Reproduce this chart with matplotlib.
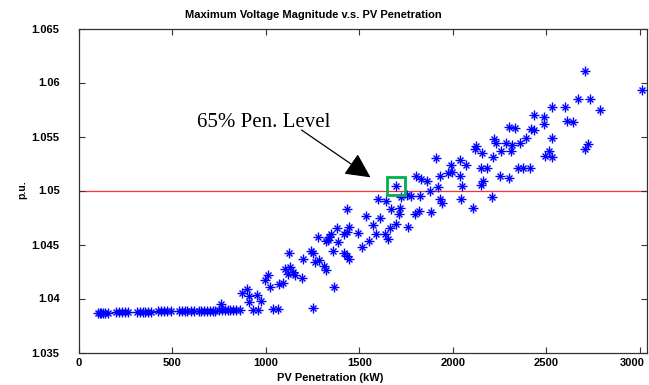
import matplotlib
matplotlib.use("Agg")
import matplotlib.pyplot as plt
from matplotlib.transforms import ScaledTranslation

# ---- data ----
flat_kw = [100, 110, 120, 130, 140, 155,
           200, 215, 230, 245, 260,
           310, 325, 340, 355, 370, 385,
           425, 440, 455, 470, 490,
           535, 550, 565, 580, 600, 615,
           640, 655, 670, 685, 700, 715, 730,
           750, 765, 780, 795, 810, 825, 840, 860]
flat_pu = [1.0387] * 6 + [1.03875] * 5 + [1.03878] * 6 + [1.0388] * 5 + \
          [1.03885] * 6 + [1.03888] * 7 + [1.0389] * 8

rise_kw = [759, 897, 875, 911, 911, 954, 972, 932, 959, 1039, 1066,
           995, 1009, 1021, 1071, 1091, 1125, 1102, 1128, 1146, 1119, 1155,
           1191, 1198, 1244, 1253, 1262, 1284, 1310, 1321, 1280, 1321, 1333,
           1253, 1365, 1601, 1642, 1726, 1753, 1672, 1717, 1711, 1437, 1535,
           1610, 1571, 1699, 1667, 1762, 1592, 1636, 1655, 1553, 1517, 1381,
           1446, 1432, 1419, 1494, 1351, 1339, 1387, 1360, 1417, 1432, 1446]
rise_pu = [1.0395, 1.0409, 1.0405, 1.0402, 1.0397, 1.0403, 1.0398, 1.0389, 1.0389, 1.0390, 1.0390,
           1.0417, 1.0422, 1.0411, 1.0413, 1.0414, 1.0442, 1.0427, 1.0429, 1.0425, 1.0423, 1.0422,
           1.0419, 1.0437, 1.0444, 1.0442, 1.0434, 1.0436, 1.0430, 1.0426, 1.0457, 1.0453, 1.0454,
           1.0391, 1.0411, 1.0492, 1.0490, 1.0494, 1.0496, 1.0483, 1.0484, 1.0478, 1.0483, 1.0476,
           1.0475, 1.0468, 1.0469, 1.0465, 1.0466, 1.0460, 1.0460, 1.0455, 1.0453, 1.0448, 1.0465,
           1.0466, 1.0462, 1.0460, 1.0461, 1.0460, 1.0457, 1.0452, 1.0444, 1.0442, 1.0439, 1.0437]

high_kw = [1912, 1993, 2041, 2070, 1806, 1829, 1864, 1931, 1973, 1999, 2038,
           2123, 2120, 2155, 2216, 2154, 2185, 2222, 2234, 2261, 2287, 2254,
           2300, 2161, 2153, 1922, 2048, 1876, 1779, 1824, 1931, 1944, 2047,
           2212, 2109, 1886, 1797, 1818, 3015, 2706, 2669, 2735, 2790, 2531,
           2602, 2433, 2488, 2488, 2611, 2643, 2303, 2331, 2421, 2433, 2533,
           2319, 2362, 2392, 2314, 2513, 2495, 2532, 2724, 2710, 2349, 2374, 2412]
high_pu = [1.0530, 1.0524, 1.0528, 1.0524, 1.0513, 1.0511, 1.0509, 1.0513, 1.0516, 1.0517, 1.0513,
           1.0541, 1.0538, 1.0535, 1.0531, 1.0521, 1.0521, 1.0548, 1.0544, 1.0537, 1.0544, 1.0513,
           1.0512, 1.0509, 1.0505, 1.0503, 1.0504, 1.0500, 1.0495, 1.0495, 1.0492, 1.0488, 1.0492,
           1.0494, 1.0484, 1.0480, 1.0478, 1.0481, 1.0593, 1.0611, 1.0585, 1.0585, 1.0575, 1.0577,
           1.0577, 1.0570, 1.0568, 1.0562, 1.0564, 1.0563, 1.0559, 1.0558, 1.0557, 1.0556, 1.0549,
           1.0542, 1.0544, 1.0549, 1.0537, 1.0537, 1.0532, 1.0531, 1.0543, 1.0538, 1.0521, 1.0521, 1.0521]

pen65_kw = 1699
pen65_pu = 1.0504
limit_pu = 1.05

note_text_xy = (631, 1.05631)
arrow_start = (1191, 1.0556)
arrow_tip = (1560, 1.05122)

x_ticks = [0, 500, 1000, 1500, 2000, 2500, 3000]
y_ticks = [1.035, 1.04, 1.045, 1.05, 1.055, 1.06, 1.065]
y_ticklabels = ["1.035", "1.04", "1.045", "1.05", "1.055", "1.06", "1.065"]

title = "Maximum Voltage Magnitude v.s. PV Penetration"
xlabel = "PV Penetration (kW)"
ylabel = "p.u."
note = "65% Pen. Level"

# ---- plot ----
plt.rcParams['font.family'] = ['Liberation Sans', 'DejaVu Sans']
fig = plt.figure(figsize=(6.49, 3.85), dpi=100)
ax = fig.add_axes([79 / 649, 1 - 352.5 / 385, (647 - 79) / 649, (352.5 - 28.5) / 385])

all_kw = [pen65_kw] + flat_kw + rise_kw + high_kw
all_pu = [pen65_pu] + flat_pu + rise_pu + high_pu

ax.axhline(limit_pu, color='#ff3030', lw=0.9, zorder=1)
for m in ['+', 'x']:
    ax.plot(all_kw, all_pu, linestyle='none', marker=m, color='#0000ff',
            markersize=6.5 if m == '+' else 5, markeredgewidth=1.0, zorder=3)

ax.plot([pen65_kw], [pen65_pu], linestyle='none', marker='s', markersize=12.5,
        markerfacecolor='none', markeredgecolor='#00b050', markeredgewidth=2.0, zorder=4)

ax.text(note_text_xy[0], note_text_xy[1], note, fontsize=15, family=['Liberation Serif'],
        ha='left', va='center', zorder=5)
ax.annotate('', xy=arrow_tip, xytext=arrow_start,
            arrowprops=dict(arrowstyle='-|>,head_length=0.7,head_width=0.35', color='black', lw=0.9,
                            mutation_scale=22, shrinkA=0, shrinkB=0), zorder=5)

ax.set_xlim(0, 3040)
ax.set_ylim(1.035, 1.065)
ax.set_xticks(x_ticks)
ax.set_xticklabels([str(t) for t in x_ticks], fontsize=8, fontweight='bold')
ax.set_yticks(y_ticks)
ax.set_yticklabels(y_ticklabels, fontsize=8, fontweight='bold')
ax.tick_params(direction='in', top=True, right=True, length=4, width=0.8, color='#333333')
ax.tick_params(axis='y', pad=14)
ax.tick_params(axis='x', pad=4)
for s in ax.spines.values():
    s.set_color('#333333')
    s.set_linewidth(0.9)

last = ax.get_xticklabels()[-1]
last.set_transform(last.get_transform() + ScaledTranslation(-5 / 72, 0, fig.dpi_scale_trans))

fig.text(313 / 649, 1 - 15 / 385, title, ha='center', va='center', fontsize=8, fontweight='bold')
fig.text(330 / 649, 1 - 378 / 385, xlabel, ha='center', va='center', fontsize=8, fontweight='bold')
fig.text(22 / 649, 1 - 190 / 385, ylabel, ha='center', va='center', rotation=90, fontsize=7.5, fontweight='bold')

fig.savefig("out.png", dpi=100)
